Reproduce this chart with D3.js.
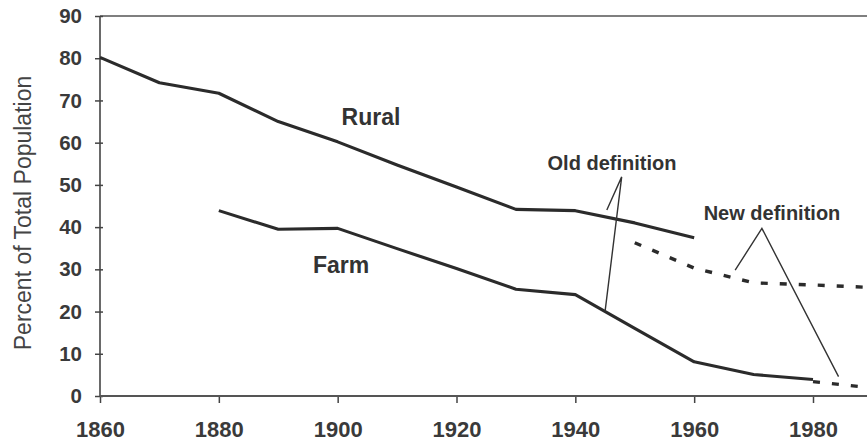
<!DOCTYPE html>
<html>
<head>
<meta charset="utf-8">
<script src="https://cdn.jsdelivr.net/npm/d3@7"></script>
<style>
  body { margin: 0; background: #fff; }
  svg { display: block; }
  text { font-family: "Liberation Sans", Arial, Helvetica, sans-serif; fill: #333; }
</style>
</head>
<body>
<script>
// rural and farm share of US population, percent
var years = [1860, 1870, 1880, 1890, 1900, 1910, 1920, 1930, 1940, 1950, 1960, 1970, 1980, 1990];
var ruralOld = [80.2, 74.2, 71.7, 65.0, 60.2, 54.7, 49.5, 44.2, 43.9, 41.0, 37.5, null, null, null];
var farmOld = [null, null, 43.9, 39.5, 39.7, 34.9, 30.2, 25.3, 24.0, 16.0, 8.1, 5.1, 3.9, null];
var ruralNew = [null, null, null, null, null, null, null, null, null, 36.3, 30.3, 26.8, 26.3, 25.7];
var farmNew = [null, null, null, null, null, null, null, null, null, null, null, null, 3.4, 1.9];

var xTicks = [1860, 1880, 1900, 1920, 1940, 1960, 1980];
var yTicks = [0, 10, 20, 30, 40, 50, 60, 70, 80, 90];

var w = 867;
var h = 442;

var svg = d3.select("body")
            .append("svg")
            .attr("width", w)
            .attr("height", h);

var x = d3.scaleLinear().domain([1860, 1980]).range([100, 813]);
var y = d3.scaleLinear().domain([0, 90]).range([396, 16]);

// frame: top rule runs off the right edge like the scan
svg.append("line")
    .attr("x1", x(1860)).attr("x2", w)
    .attr("y1", y(90)).attr("y2", y(90))
    .style("stroke", "#555").style("stroke-width", 1.6);

var yAxis = svg.append("g")
    .attr("transform", "translate(" + x(1860) + ",0)")
    .call(d3.axisLeft(y).tickValues(yTicks).tickSize(5).tickPadding(13));

yAxis.select(".domain").remove();
yAxis.selectAll(".tick line").attr("x1", 3).style("stroke", "#444").style("stroke-width", 1.5);
yAxis.selectAll(".tick text")
    .style("font-size", "20.5px")
    .style("font-weight", "bold")
    .style("fill", "#3a3a3a");
yAxis.append("line")
    .attr("y1", y(0)).attr("y2", y(90))
    .style("stroke", "#444").style("stroke-width", 1.6);

var xAxis = svg.append("g")
    .attr("transform", "translate(0," + y(0) + ")")
    .call(d3.axisBottom(x).tickValues(xTicks).tickSize(7).tickPadding(18).tickFormat(d3.format("d")));

xAxis.select(".domain").remove();
xAxis.selectAll(".tick line").style("stroke", "#444").style("stroke-width", 1.5);
xAxis.selectAll(".tick text")
    .style("font-size", "22px")
    .style("font-weight", "bold")
    .style("fill", "#3a3a3a");
xAxis.append("line")
    .attr("x1", x(1860)).attr("x2", w)
    .style("stroke", "#555").style("stroke-width", 1.8);

svg.append("text")
    .attr("transform", "translate(31," + ((y(0) + y(90)) / 2 + 7) + ") rotate(-90)")
    .attr("text-anchor", "middle")
    .style("font-size", "23px")
    .style("fill", "#444")
    .text("Percent of Total Population");

// series
function seriesPoints(vals) {
    return years.map(function(yr, i) { return [yr, vals[i]]; });
}

var line = d3.line()
    .defined(function(d) { return d[1] != null; })
    .x(function(d) { return x(d[0]); })
    .y(function(d) { return y(d[1]); });

function drawSeries(vals, dashed) {
    svg.append("path")
        .datum(seriesPoints(vals))
        .attr("d", line)
        .style("fill", "none")
        .style("stroke", "#2b2b2b")
        .style("stroke-width", dashed ? 3.4 : 3.1)
        .style("stroke-linejoin", "round")
        .style("stroke-dasharray", dashed ? "7,12" : null);
}

drawSeries(ruralOld, false);
drawSeries(farmOld, false);
drawSeries(ruralNew, true);
drawSeries(farmNew, true);

// pointer lines from the definition labels, in data units
var pointers = [
    [[1945.3, 44.05], [1947.8, 51.9], [1945.0, 20.0]],
    [[1966.9, 29.8], [1971.4, 39.7], [1984.3, 4.6]]
];

svg.selectAll("path.pointer")
    .data(pointers)
    .enter()
    .append("path")
    .attr("class", "pointer")
    .attr("d", d3.line().x(function(d) { return x(d[0]); }).y(function(d) { return y(d[1]); }))
    .style("fill", "none")
    .style("stroke", "#333")
    .style("stroke-width", 1.4);

var labels = [
    { t: "Rural", px: 371, py: 125, size: 23 },
    { t: "Farm", px: 341, py: 273, size: 23 },
    { t: "Old definition", px: 612, py: 170, size: 20 },
    { t: "New definition", px: 772, py: 220, size: 20 }
];

svg.selectAll("text.lbl")
    .data(labels)
    .enter()
    .append("text")
    .attr("class", "lbl")
    .attr("x", function(d) { return d.px; })
    .attr("y", function(d) { return d.py; })
    .attr("text-anchor", "middle")
    .style("font-size", function(d) { return d.size + "px"; })
    .style("font-weight", "bold")
    .text(function(d) { return d.t; });
</script>
</body>
</html>
